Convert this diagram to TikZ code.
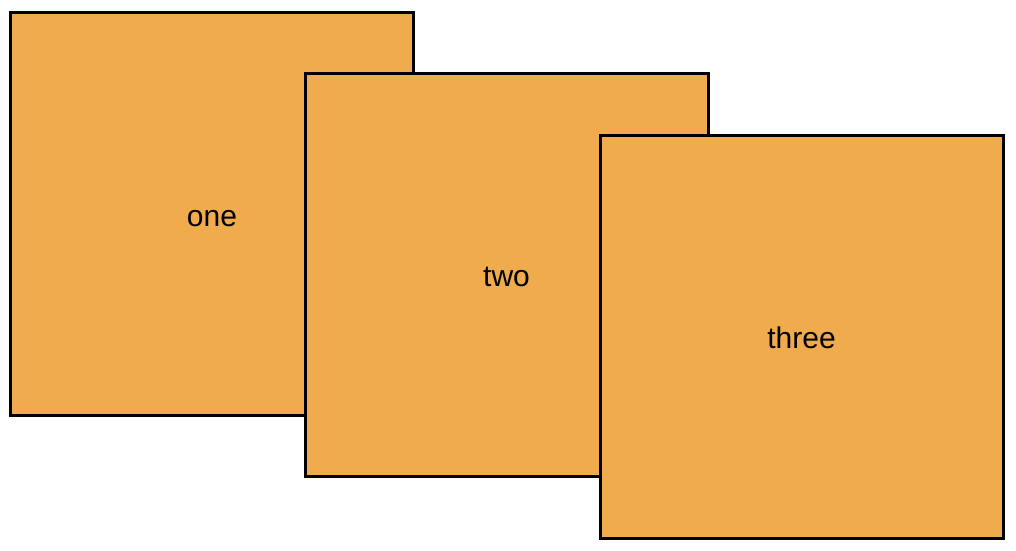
\documentclass[tikz,border=0pt]{standalone}
\usepackage{fontspec}
\setmainfont{Liberation Sans}
\definecolor{boxorange}{RGB}{239,171,76}
\begin{document}
\begin{tikzpicture}[x=1pt,y=-1pt,
  card/.style={draw=black,line width=3pt,fill=boxorange,minimum width=403pt,minimum height=403pt,inner sep=0pt,text height=24pt,text depth=-3pt,font=\fontsize{30}{36}\selectfont,text=black}]
\useasboundingbox (0,0) rectangle (1016,550);
\node[card] (one) at (212,214) {one};
\node[card] (two) at (506.5,274.5) {two};
\node[card] (three) at (801.5,336.5) {three};
\end{tikzpicture}
\end{document}
